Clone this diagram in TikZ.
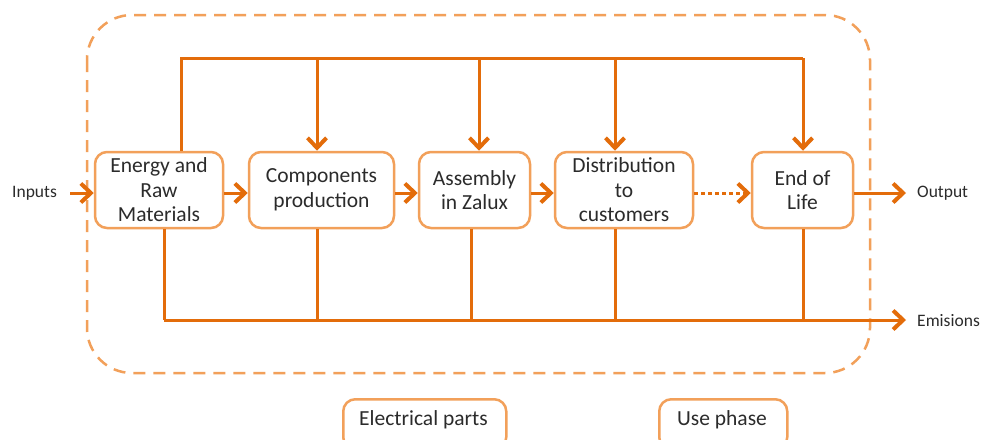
\documentclass[tikz,border=0pt]{standalone}
\usepackage{fontspec}
\setmainfont{Carlito}
\usetikzlibrary{arrows.meta}
\definecolor{conn}{HTML}{E36C0A}
\definecolor{boxc}{HTML}{F2A05A}
\definecolor{txt}{HTML}{2B2B2B}
\tikzset{
  proc/.style={draw=boxc, line width=2.5pt, rounded corners=12pt, fill=white, align=center,
    text=txt, font=\fontsize{21.5}{24.5}\selectfont, inner sep=0pt},
  lbl/.style={text=txt, font=\fontsize{17.5}{20}\selectfont, inner sep=0pt},
  cline/.style={draw=conn, line width=3pt},
  carr/.style={cline, -{Straight Barb[length=10pt,width=19pt,line width=4pt]}},
}
\begin{document}
\begin{tikzpicture}[x=1pt,y=-1pt]
\useasboundingbox (0,0) rectangle (982,439);
\clip (0,0) rectangle (982,439);
\fill[white] (0,0) rectangle (982,439);
% dashed boundary
\draw[boxc, line width=2.5pt, dash pattern=on 12pt off 8pt, rounded corners=45pt] (87,15) rectangle (870,373);
% process boxes
\node[proc, minimum width=128pt, minimum height=76pt] (e) at (159,190) {Energy and\\Raw\\Materials};
\node[proc, minimum width=145pt, minimum height=76pt] (c) at (321.5,190) {Components\\production};
\node[proc, minimum width=111pt, minimum height=76pt] (a) at (474.5,190) {Assembly\\in Zalux};
\node[proc, minimum width=138pt, minimum height=76pt] (d) at (624,190) {Distribution\\to\\customers};
\node[proc, minimum width=101pt, minimum height=76pt] (l) at (802.5,190) {End of\\Life};
% labels
\node[lbl, anchor=west] (in) at (12,193) {Inputs};
\node[lbl, anchor=west] (out) at (917,193) {Output};
\node[lbl, anchor=west] (em) at (917,321) {Emisions};
% legend boxes
\node[proc, minimum width=163pt, minimum height=50pt, anchor=north west] (ep) at (342,398) {};
\node[lbl, font=\fontsize{21.5}{24}\selectfont] (ept) at (423.5,420) {Electrical parts};
\node[proc, minimum width=128pt, minimum height=50pt, anchor=north west] (up) at (658,398) {};
\node[lbl, font=\fontsize{21.5}{24}\selectfont] (upt) at (722,420) {Use phase};
% top distribution line
\coordinate (t0) at (181,58);
\coordinate (t1) at (317,58);
\coordinate (t2) at (479,58);
\coordinate (t3) at (615,58);
\coordinate (t4) at (803,58);
\draw[cline] (t0 |- e.north) -- (t0) -- (t4);
\draw[carr] (t1) -- (t1 |- c.north);
\draw[carr] (t2) -- (t2 |- a.north);
\draw[carr] (t3) -- (t3 |- d.north);
\draw[carr] (t4) -- (t4 |- l.north);
% bottom emissions line
\coordinate (b0) at (164,320);
\coordinate (b1) at (317,320);
\coordinate (b2) at (471,320);
\coordinate (b3) at (615,320);
\coordinate (b4) at (803,320);
\coordinate (b5) at (906,320);
\draw[cline] (b0 |- e.south) -- (b0);
\draw[cline] (b1 |- c.south) -- (b1);
\draw[cline] (b2 |- a.south) -- (b2);
\draw[cline] (b3 |- d.south) -- (b3);
\draw[cline] (b4 |- l.south) -- (b4);
\draw[carr] (b0) -- (b5);
% main flow
\coordinate (inS) at (70,193);
\coordinate (oE) at (906,193);
\draw[carr] (inS) -- (e.west |- inS);
\draw[carr] (e.east |- inS) -- (c.west |- inS);
\draw[carr] (c.east |- inS) -- (a.west |- inS);
\draw[carr] (a.east |- inS) -- (d.west |- inS);
\draw[carr, dash pattern=on 4pt off 3pt] (d.east |- inS) -- (l.west |- inS);
\draw[carr] (l.east |- inS) -- (oE);
\end{tikzpicture}
\end{document}
